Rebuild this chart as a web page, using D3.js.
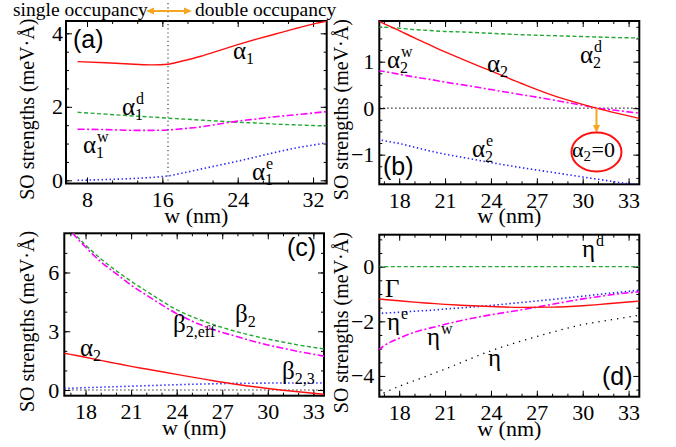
<!DOCTYPE html>
<html><head><meta charset="utf-8">
<script src="https://cdn.jsdelivr.net/npm/d3@7"></script>
<style>
body{margin:0;background:#fff}
svg text{font-family:"Liberation Serif","Times New Roman",serif;fill:#000}
</style></head><body>
<svg id="fig" width="676" height="447"></svg>
<script>
// ---- data ----
var wA = [7, 10, 13, 15, 16.6, 18, 20, 22, 24, 26, 28, 30, 32, 33.45];
var alpha1  = [3.23, 3.20, 3.16, 3.14, 3.16, 3.24, 3.37, 3.53, 3.69, 3.84, 3.98, 4.12, 4.25, 4.33];
var alpha1d = [1.85, 1.80, 1.75, 1.72, 1.69, 1.67, 1.64, 1.61, 1.58, 1.56, 1.53, 1.51, 1.49, 1.48];
var alpha1w = [1.39, 1.38, 1.36, 1.36, 1.37, 1.40, 1.45, 1.53, 1.61, 1.67, 1.73, 1.78, 1.83, 1.87];
var alpha1e = [0.00, 0.02, 0.05, 0.08, 0.12, 0.19, 0.30, 0.41, 0.52, 0.64, 0.76, 0.87, 0.96, 1.02];

var wB = [16.6, 17, 18, 19, 20, 21, 22, 24, 26, 28, 30, 31, 32, 33.7];
var alpha2  = [1.88, 1.82, 1.67, 1.51, 1.36, 1.21, 1.07, 0.80, 0.53, 0.28, 0.08, -0.01, -0.09, -0.22];
var alpha2d = [1.74, 1.74, 1.72, 1.69, 1.67, 1.65, 1.64, 1.61, 1.58, 1.56, 1.54, 1.53, 1.52, 1.51];
var alpha2w = [0.81, 0.79, 0.73, 0.67, 0.62, 0.56, 0.51, 0.40, 0.29, 0.18, 0.06, 0.00, -0.04, -0.11];
var alpha2e = [-0.67, -0.70, -0.76, -0.84, -0.92, -0.99, -1.05, -1.17, -1.28, -1.38, -1.48, -1.53, -1.58, -1.66];

var beta2    = [8.60, 8.20, 7.40, 6.70, 6.10, 5.55, 5.05, 4.10, 3.45, 2.97, 2.60, 2.45, 2.30, 2.10];
var beta2eff = [8.60, 8.15, 7.30, 6.55, 5.95, 5.35, 4.85, 3.90, 3.20, 2.72, 2.30, 2.13, 1.97, 1.73];
var beta23   = [0.08, 0.09, 0.12, 0.145, 0.17, 0.195, 0.22, 0.27, 0.31, 0.34, 0.355, 0.36, 0.36, 0.36];

var etaD  = [0, 0, 0, 0, 0, 0, 0, 0, 0, 0, 0, 0, 0, 0];
var gamma = [-1.18, -1.20, -1.25, -1.30, -1.34, -1.38, -1.41, -1.46, -1.49, -1.48, -1.43, -1.39, -1.34, -1.26];
var etaE  = [-1.71, -1.70, -1.67, -1.63, -1.60, -1.55, -1.51, -1.42, -1.31, -1.20, -1.08, -1.02, -0.96, -0.86];
var etaW  = [-3.07, -2.90, -2.62, -2.40, -2.25, -2.11, -1.98, -1.76, -1.58, -1.38, -1.18, -1.10, -1.02, -0.92];
var eta   = [-4.72, -4.62, -4.38, -4.17, -3.96, -3.75, -3.52, -3.08, -2.72, -2.40, -2.12, -2.02, -1.93, -1.78];

var xTicksA = [8, 16, 24, 32];
var xTicksB = [18, 21, 24, 27, 30, 33];
var yTicksA = [0, 2, 4];
var yTicksB = [-1, 0, 1];
var yTicksC = [0, 3, 6];
var yTicksD = [-4, -2, 0];
var wSplit = 16.6;     // single / double occupancy boundary
var wZero = 30.9;      // alpha2 = 0

var RED = "#ff1010", GREEN = "#22aa33", MAG = "#ff00ff", BLUE = "#2222ff", OR = "#f5a623";

var svg = d3.select("#fig");
var fmt = d3.format("d");

function panel(id, box, xd, yd, xt, xminor, yt, yminor) {
  var g = svg.append("g");
  var x = d3.scaleLinear().domain(xd).range([box[0], box[1]]);
  var y = d3.scaleLinear().domain(yd).range([box[3], box[2]]);
  g.append("clipPath").attr("id", "clip" + id).append("rect")
    .attr("x", box[0]).attr("y", box[2]).attr("width", box[1] - box[0]).attr("height", box[3] - box[2]);
  var xm = d3.range(Math.ceil(xd[0] / xminor) * xminor, xd[1], xminor);
  var ym = d3.range(Math.ceil(yd[0] / yminor) * yminor, yd[1], yminor);
  var axes = [
    [d3.axisBottom, x, "translate(0," + box[3] + ")", xt, xm, true],
    [d3.axisTop, x, "translate(0," + box[2] + ")", xt, xm, false],
    [d3.axisLeft, y, "translate(" + box[0] + ",0)", yt, ym, true],
    [d3.axisRight, y, "translate(" + box[1] + ",0)", yt, ym, false]
  ];
  axes.forEach(function (a, i) {
    var horiz = i < 2;
    var ax = a[0](a[1]).tickValues(a[3]).tickSize(-6)
      .tickPadding(horiz ? 8 : (id == "a" ? 3 : 5)).tickFormat(a[5] ? fmt : "");
    var ag = g.append("g").attr("transform", a[2]).call(ax)
      .attr("font-size", null).attr("font-family", null);
    ag.select(".domain").remove();
    var mg = g.append("g").attr("transform", a[2])
      .call(a[0](a[1]).tickValues(a[4]).tickSize(-3).tickFormat(""));
    mg.select(".domain").remove();
  });
  g.selectAll(".tick text").style("font-size", "22px");
  g.append("rect").attr("x", box[0]).attr("y", box[2]).attr("width", box[1] - box[0]).attr("height", box[3] - box[2])
    .attr("fill", "none").attr("stroke", "#000").attr("stroke-width", 2);
  var cx = (box[0] + box[1]) / 2, cy = (box[2] + box[3]) / 2;
  g.append("text").attr("x", cx).attr("y", box[3] + 39).attr("text-anchor", "middle")
    .style("font-size", "22px").text("w (nm)");
  var lx = box[0] < 200 ? 34 : 348;
  g.append("text").attr("transform", "translate(" + lx + "," + (cy + 7) + ") rotate(-90)")
    .attr("text-anchor", "middle").style("font-size", "20px").text("SO strengths (meV\u00b7\u00c5)");
  var lines = g.append("g").attr("clip-path", "url(#clip" + id + ")");
  return {g: g, x: x, y: y, lines: lines};
}

function curve(p, xs, ys, color, dash, width) {
  var line = d3.line().x(function (d, i) { return p.x(xs[i]); }).y(function (d) { return p.y(d); })
    .curve(d3.curveMonotoneX);
  p.lines.append("path").attr("d", line(ys)).attr("fill", "none").attr("stroke", color)
    .attr("stroke-width", width || 1.4).attr("stroke-dasharray", dash || null);
}

function label(g, x, y, base, sub, sup) {
  var t = g.append("text").attr("x", x).attr("y", y).style("font-size", "25px").text(base);
  var w = t.node().getComputedTextLength();
  if (sub) g.append("text").attr("x", x + w).attr("y", y + 5).style("font-size", "16px").text(sub);
  if (sup) g.append("text").attr("x", x + w + 1).attr("y", y - 11).style("font-size", "16px").text(sup);
}

function tag(g, x, y, s) {
  g.append("text").attr("x", x).attr("y", y).style("font-family", '"Liberation Sans",Arial,sans-serif')
    .style("font-size", "25px").text(s);
}

var DASH = "4,2.5", DASHDOT = "7,2.5,2,2.5", DOT = "1.4,2.6", SPARSE = "1.3,5";

// (a)
var pa = panel("a", [66, 326.7, 21, 183.5], [5.77, 33.45], [-0.087, 4.335], xTicksA, 8 / 3, yTicksA, 0.5);
curve(pa, wA, alpha1d, GREEN, DASH);
curve(pa, wA, alpha1w, MAG, DASHDOT, 1.6);
curve(pa, wA, alpha1e, BLUE, DOT, 1.6);
curve(pa, wA, alpha1, RED, null, 1.4);
label(pa.g, 233, 59, "\u03b1", "1");
label(pa.g, 122, 115, "\u03b1", "1", "d");
label(pa.g, 83, 153, "\u03b1", "1", "w");
label(pa.g, 252, 180, "\u03b1", "1", "e");
tag(pa.g, 73, 48, "(a)");
svg.append("line").attr("x1", pa.x(wSplit)).attr("x2", pa.x(wSplit)).attr("y1", 3).attr("y2", 183)
  .attr("stroke", "#444").attr("stroke-width", 1.2).attr("stroke-dasharray", "1.2,3");

// header
svg.append("text").attr("x", 13).attr("y", 16).style("font-size", "19.5px").text("single occupancy");
svg.append("text").attr("x", 195).attr("y", 16).style("font-size", "19.5px").text("double occupancy");
svg.append("line").attr("x1", 150).attr("x2", 188).attr("y1", 11).attr("y2", 11).attr("stroke", OR).attr("stroke-width", 2);
svg.append("path").attr("d", "M146,11 L154,7.5 L154,14.5 Z M192,11 L184,7.5 L184,14.5 Z").attr("fill", OR);

// (b)
var pb = panel("b", [379.3, 639.3, 21, 184.3], [16.7, 33.7], [-1.638, 1.875], xTicksB, 1, yTicksB, 0.25);
curve(pb, [16.7, 33.7], [0, 0], "#000", "1.2,2.8", 1.1);
curve(pb, wB, alpha2d, GREEN, DASH);
curve(pb, wB, alpha2w, MAG, DASHDOT, 1.6);
curve(pb, wB, alpha2e, BLUE, DOT, 1.6);
curve(pb, wB, alpha2, RED, null, 1.4);
label(pb.g, 387, 68, "\u03b1", "2", "w");
label(pb.g, 487, 72, "\u03b1", "2");
label(pb.g, 580, 63, "\u03b1", "2", "d");
label(pb.g, 472, 157, "\u03b1", "2", "e");
tag(pb.g, 383, 175, "(b)");
var ex = pb.x(wZero);
pb.g.append("line").attr("x1", ex).attr("x2", ex).attr("y1", pb.y(0)).attr("y2", 126)
  .attr("stroke", OR).attr("stroke-width", 2);
pb.g.append("path").attr("d", "M" + (ex - 3.5) + ",125 L" + (ex + 3.5) + ",125 L" + ex + ",133 Z").attr("fill", OR);
pb.g.append("ellipse").attr("cx", ex).attr("cy", 152).attr("rx", 25).attr("ry", 19.5)
  .attr("fill", "none").attr("stroke", RED).attr("stroke-width", 2);
var t0 = pb.g.append("text").attr("x", 572).attr("y", 157).style("font-size", "22px").text("\u03b1");
var tw = t0.node().getComputedTextLength();
pb.g.append("text").attr("x", 572 + tw).attr("y", 161).style("font-size", "15px").text("2");
pb.g.append("text").attr("x", 572 + tw + 8).attr("y", 157).style("font-size", "22px").text("=0");

// (c)
var pc = panel("c", [64.3, 324, 233.3, 395.7], [16.6, 33.7], [-0.29, 8.0], xTicksB, 1, yTicksC, 1);
curve(pc, [16.6, 33.7], [0, 0], "#000", "1.2,2.8", 1.1);
curve(pc, wB, beta2, GREEN, DASH);
curve(pc, wB, beta2eff, MAG, DASHDOT, 1.6);
curve(pc, wB, beta23, BLUE, DOT, 1.6);
curve(pc, wB, alpha2, RED, null, 1.4);
label(pc.g, 235, 322, "\u03b2", "2");
label(pc.g, 173, 332, "\u03b2", "2,eff");
label(pc.g, 80, 356, "\u03b1", "2");
label(pc.g, 282, 379, "\u03b2", "2,3");
tag(pc.g, 287, 256, "(c)");

// (d)
var pd = panel("d", [379.3, 639.3, 234.7, 396.7], [16.7, 33.7], [-4.76, 1.17], xTicksB, 1, yTicksD, 0.5);
curve(pd, wB, etaD, GREEN, DASH);
curve(pd, wB, eta, "#000", SPARSE, 1.3);
curve(pd, wB, etaW, MAG, DASHDOT, 1.6);
curve(pd, wB, etaE, BLUE, DOT, 1.6);
curve(pd, wB, gamma, RED, null, 1.4);
label(pd.g, 582, 257, "\u03b7", null, "d");
label(pd.g, 385, 297, "\u0393");
label(pd.g, 387, 330, "\u03b7", null, "e");
label(pd.g, 427, 345, "\u03b7", null, "w");
label(pd.g, 488, 366, "\u03b7");
tag(pd.g, 602, 385, "(d)");
</script></body></html>
